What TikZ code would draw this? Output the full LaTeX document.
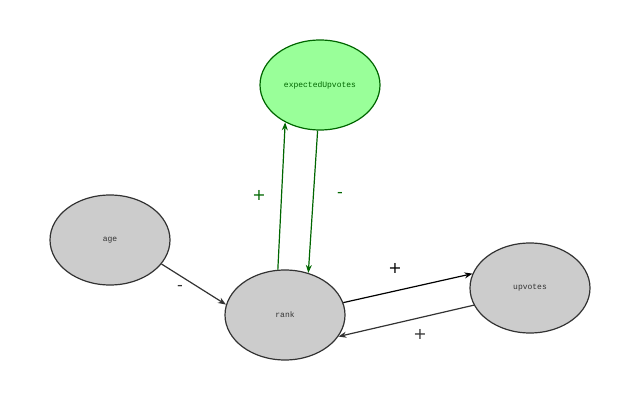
\documentclass[tikz,border=0pt]{standalone}
\usepackage{fontspec}
\setmonofont{Liberation Mono}
\setsansfont{DejaVu Sans}
\usetikzlibrary{shapes.geometric,arrows.meta}
\definecolor{gfill}{HTML}{CCCCCC}
\definecolor{gline}{HTML}{333333}
\definecolor{efill}{HTML}{99FF99}
\definecolor{eline}{HTML}{006600}
\begin{document}
\begin{tikzpicture}[x=1pt,y=1pt,
  nd/.style={ellipse,draw=gline,fill=gfill,line width=1.2pt,minimum width=120pt,minimum height=90pt,inner sep=0pt,font=\ttfamily\fontsize{8}{9}\selectfont,text=gline},
  en/.style={nd,draw=eline,fill=efill,text=eline},
  ar/.style={-{Stealth[length=8pt,width=6pt]},line width=1.2pt},
  lb/.style={font=\sffamily\fontsize{16}{16}\selectfont}]
\useasboundingbox (0,0) rectangle (642,-411);
\node[en] (e) at (320,-85) {expectedUpvotes};
\node[nd] (a) at (110,-240) {age};
\node[nd] (r) at (285,-315) {rank};
\node[nd] (u) at (530,-288) {upvotes};
\draw[ar,eline] (r.99) -- (e.227);
\draw[ar,eline] (e.267) -- (r.61);
\draw[ar,gline] (a.-25) -- (r.170);
\draw[ar,black] (r.12) -- (u.166);
\draw[ar,gline] (u.197) -- (r.-22);
\node[lb,text=eline] (l1) at (259,-195) {+};
\node[lb,text=eline] (l2) at (340,-195) {-};
\node[lb,text=gline] (l3) at (180,-288) {-};
\node[lb,text=black] (l4) at (395,-268) {+};
\node[lb,text=gline] (l5) at (420,-334) {+};
\end{tikzpicture}
\end{document}
